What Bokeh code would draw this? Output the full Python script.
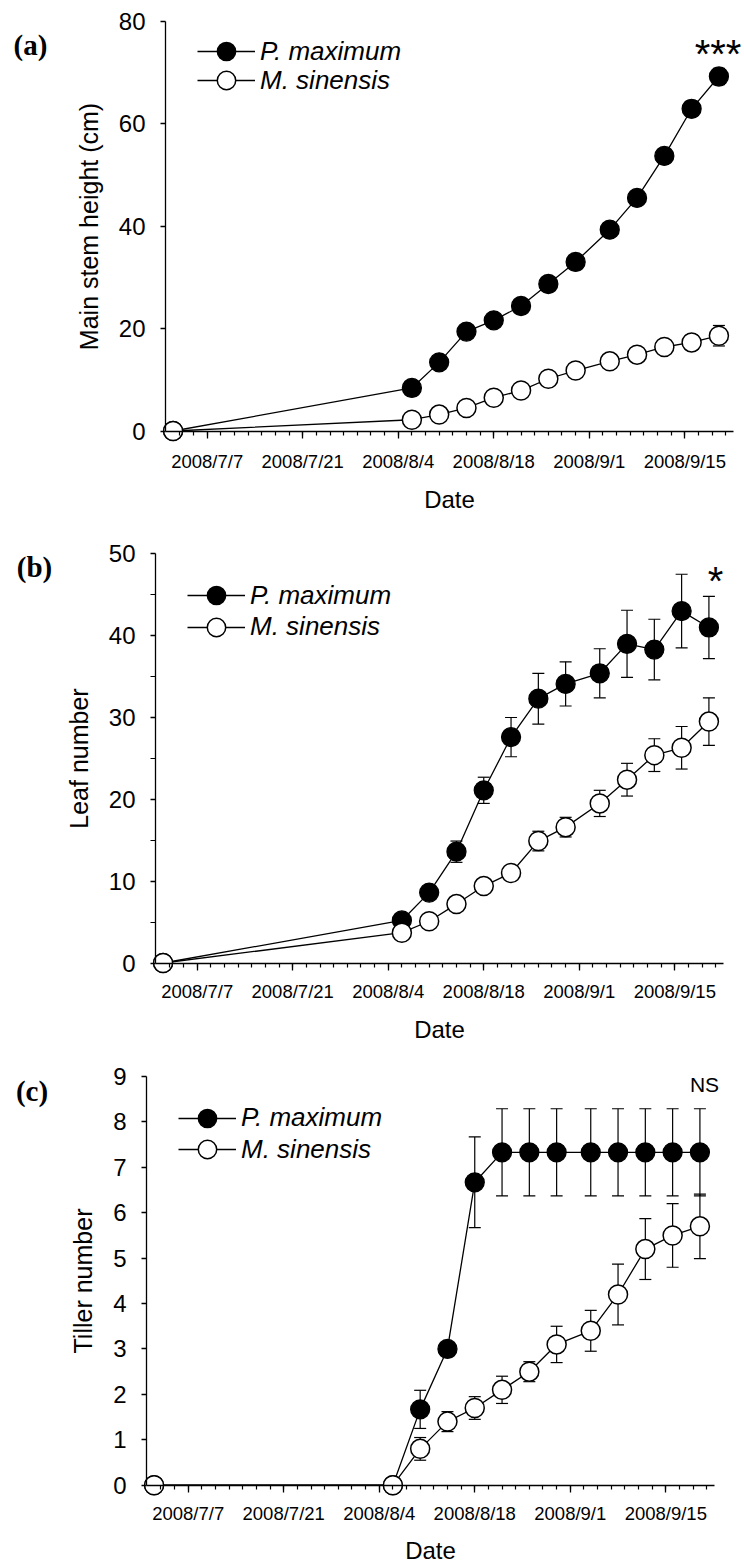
import pandas as pd
from bokeh.plotting import figure
from bokeh.models import (ColumnDataSource, FixedTicker, Whisker, TeeHead, Label,
                          Legend, LegendItem, Range1d)
from bokeh.layouts import column
from bokeh.embed import file_html
from bokeh.resources import INLINE

# ---------------- data ----------------
dates = ["2008-07-02", "2008-08-06", "2008-08-10", "2008-08-14", "2008-08-18",
         "2008-08-22", "2008-08-26", "2008-08-30", "2008-09-04", "2008-09-08",
         "2008-09-12", "2008-09-16", "2008-09-20"]

height_pm = [0, 8.4, 13.4, 19.4, 21.6, 24.4, 28.7, 33.0, 39.3, 45.5, 53.7, 62.9, 69.2]
height_pm_se = [0, 0.6, 0.8, 1.0, 0.9, 1.0, 1.1, 1.2, 1.2, 1.3, 1.4, 1.5, 1.6]
height_ms = [0, 2.2, 3.2, 4.5, 6.5, 7.9, 10.2, 11.8, 13.6, 14.9, 16.4, 17.3, 18.6]
height_ms_se = [0, 0.3, 0.4, 0.5, 0.6, 0.6, 0.8, 0.8, 0.9, 1.0, 1.2, 1.5, 2.0]

leaf_pm = [0, 5.2, 8.6, 13.6, 21.1, 27.6, 32.3, 34.1, 35.4, 39.0, 38.3, 43.0, 41.0]
leaf_pm_se = [0, 0.5, 0.6, 1.3, 1.6, 2.4, 3.1, 2.7, 3.0, 4.1, 3.7, 4.5, 3.8]
leaf_ms = [0, 3.7, 5.1, 7.2, 9.4, 11.0, 14.9, 16.6, 19.5, 22.4, 25.4, 26.3, 29.5]
leaf_ms_se = [0, 0.3, 0.4, 0.5, 0.5, 0.6, 1.2, 1.2, 1.6, 2.0, 2.0, 2.6, 2.9]

tiller_pm = [0, 0, 1.67, 3.0, 6.67, 7.33, 7.33, 7.33, 7.33, 7.33, 7.33, 7.33, 7.33]
tiller_pm_se = [0, 0, 0.42, 0, 1.0, 0.96, 0.96, 0.96, 0.96, 0.96, 0.96, 0.96, 0.96]
tiller_ms = [0, 0, 0.8, 1.4, 1.7, 2.1, 2.5, 3.1, 3.4, 4.2, 5.2, 5.5, 5.7]
tiller_ms_se = [0, 0, 0.25, 0.22, 0.25, 0.3, 0.22, 0.4, 0.45, 0.67, 0.67, 0.7, 0.71]

tick_dates = ["2008-07-07", "2008-07-21", "2008-08-04", "2008-08-18", "2008-09-01", "2008-09-15"]
tick_labels = ["2008/7/7", "2008/7/21", "2008/8/4", "2008/8/18", "2008/9/1", "2008/9/15"]

series_names = ["P. maximum", "M. sinensis"]

# ---------------- helpers ----------------
ORIGIN = pd.Timestamp("2008-07-01")


def day(s):
    return (pd.Timestamp(s) - ORIGIN).days


xs = [day(d) for d in dates]
major_x = [day(d) for d in tick_dates]
minor_x = list(range(2, 83, 2))
overrides = {t: lab for t, lab in zip(major_x, tick_labels)}

SANS = "Liberation Sans"
SERIF = "Liberation Serif"
W = 744
PPD = 6.823          # pixels per day
AX0 = -0.11          # day at which the date axis starts
AX1 = AX0 + 568 / PPD


def panel(fig_top, fig_h, axis_x, top_px, zero_px, ymax, yticks, yminor, ytitle,
          pm, pm_se, ms, ms_se, letter, letter_xy, sig, sig_xy, sig_size, rows,
          date_off, xlab_standoff):
    ppu = (zero_px - top_px) / ymax
    rel_zero = zero_px - fig_top
    x_start = AX0 - axis_x / PPD
    x_end = AX0 + (W - axis_x) / PPD
    y_end = rel_zero / ppu
    y_start = -(fig_h - rel_zero) / ppu

    p = figure(width=W, height=fig_h, x_range=Range1d(x_start, x_end),
               y_range=Range1d(y_start, y_end), toolbar_location=None,
               output_backend="svg", min_border=0, min_border_left=0,
               min_border_right=0, min_border_top=0, min_border_bottom=0)
    p.grid.visible = False
    p.outline_line_color = None
    p.background_fill_color = "white"
    p.border_fill_color = "white"

    # x axis
    xa = p.xaxis[0]
    xa.fixed_location = 0
    xa.bounds = (AX0, AX1)
    xa.ticker = FixedTicker(ticks=major_x, minor_ticks=minor_x)
    xa.major_label_overrides = overrides
    xa.major_label_text_font = SANS
    xa.major_label_text_font_size = "18.5px"
    xa.major_label_text_color = "black"
    xa.major_label_standoff = xlab_standoff
    xa.major_tick_out = 7
    xa.major_tick_in = 0
    xa.minor_tick_out = 4
    xa.minor_tick_in = 0
    xa.axis_line_width = 1.3
    xa.major_tick_line_width = 1.3
    xa.minor_tick_line_width = 1.2

    # y axis
    ya = p.yaxis[0]
    ya.fixed_location = AX0
    ya.bounds = (0, ymax)
    ya.ticker = FixedTicker(ticks=yticks, minor_ticks=yminor)
    ya.major_label_text_font = SANS
    ya.major_label_text_font_size = "24px"
    ya.major_label_text_color = "black"
    ya.major_label_standoff = 15
    ya.major_tick_out = 5
    ya.major_tick_in = 0
    ya.minor_tick_out = 5
    ya.minor_tick_in = 0
    ya.axis_line_width = 1.3
    ya.major_tick_line_width = 1.3
    ya.minor_tick_line_width = 1.2
    ya.axis_label = ytitle
    ya.axis_label_text_font = SANS
    ya.axis_label_text_font_size = "25px"
    ya.axis_label_text_font_style = "normal"
    ya.axis_label_text_color = "black"
    ya.axis_label_standoff = 13

    # error bars
    for vals, errs in ((pm, pm_se), (ms, ms_se)):
        src = ColumnDataSource(data=dict(
            base=xs, upper=[v + e for v, e in zip(vals, errs)],
            lower=[v - e for v, e in zip(vals, errs)]))
        p.add_layout(Whisker(source=src, base="base", upper="upper", lower="lower",
                             dimension="height", line_color="black", line_width=1.2,
                             upper_head=TeeHead(size=12, line_color="black", line_width=1.2),
                             lower_head=TeeHead(size=12, line_color="black", line_width=1.2)))

    src_pm = ColumnDataSource(data=dict(x=xs, y=pm))
    src_ms = ColumnDataSource(data=dict(x=xs, y=ms))
    l_pm = p.line("x", "y", source=src_pm, line_color="black", line_width=1.3)
    s_pm = p.scatter("x", "y", source=src_pm, size=19, fill_color="black",
                     line_color="black", line_width=1.3)
    l_ms = p.line("x", "y", source=src_ms, line_color="black", line_width=1.3)
    s_ms = p.scatter("x", "y", source=src_ms, size=19, fill_color="white",
                     line_color="black", line_width=1.5)

    # legends (one per row)
    for name, rends, rc in zip(series_names, ([l_pm, s_pm], [l_ms, s_ms]), rows):
        leg = Legend(items=[LegendItem(label=name, renderers=rends)],
                     location=(axis_x + 32, fig_h - (rc - fig_top + 23)),
                     glyph_height=46, glyph_width=58, label_standoff=5,
                     label_text_font=SANS, label_text_font_size="26px",
                     label_text_font_style="italic", label_text_color="black",
                     padding=0, margin=0, spacing=0,
                     border_line_color=None, background_fill_alpha=0)
        p.add_layout(leg)

    def dx(px):
        return AX0 + (px - axis_x) / PPD

    def dy(py):
        return (zero_px - py) / ppu

    p.add_layout(Label(x=(AX0 + AX1) / 2, y=dy(zero_px + date_off), text="Date",
                       text_font=SANS, text_font_size="24px", text_align="center",
                       text_baseline="middle", text_color="black"))
    p.add_layout(Label(x=dx(letter_xy[0]), y=dy(letter_xy[1]), text=letter,
                       text_font=SERIF, text_font_size="29px", text_font_style="bold",
                       text_align="center", text_baseline="middle", text_color="black"))
    p.add_layout(Label(x=dx(sig_xy[0]), y=dy(sig_xy[1]), text=sig,
                       text_font=SANS, text_font_size=sig_size, text_align="center",
                       text_baseline="middle", text_color="black"))
    return p


pa = panel(0, 525, 165, 20.7, 430.5, 80, [0, 20, 40, 60, 80], [],
           "Main stem height (cm)", height_pm, height_pm_se, height_ms, height_ms_se,
           "(a)", (30, 44), "***", (717.5, 53), "40px", (51, 80), 68, 13)
pb = panel(525, 527, 155, 553.3, 962.5, 50, [0, 10, 20, 30, 40, 50], [5, 15, 25, 35, 45],
           "Leaf number", leaf_pm, leaf_pm_se, leaf_ms, leaf_ms_se,
           "(b)", (34, 566.7), "*", (715, 580), "40px", (595, 626.7), 66.5, 11)
pc = panel(1052, 512, 146, 1076, 1484.7, 9, list(range(10)), [],
           "Tiller number", tiller_pm, tiller_pm_se, tiller_ms, tiller_ms_se,
           "(c)", (31.5, 1090.5), "NS", (704, 1084), "21px", (1117.9, 1149.2), 65.5, 11)

layout = column(pa, pb, pc, spacing=0)
open("out.html", "w").write(file_html(layout, INLINE))
